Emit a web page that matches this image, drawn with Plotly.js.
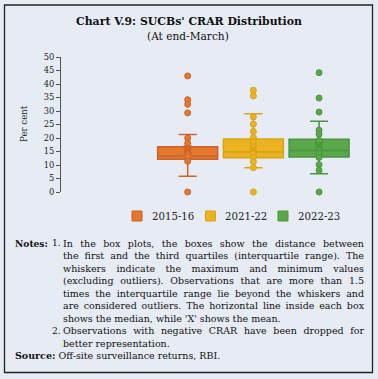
<!DOCTYPE html>
<html><head><meta charset="utf-8">
<script src="https://cdn.plot.ly/plotly-3.0.1.min.js"></script>
<style>html,body{margin:0;padding:0;background:#e7ecf4;}#chart{width:378px;height:379px;}</style>
</head><body><div id="chart"></div>
<script>
// ---- data ----
const years = ['2015-16', '2021-22', '2022-23'];
const q1 = [12.1, 12.7, 13.0];
const medians = [13.3, 14.8, 15.4];
const q3 = [16.8, 19.6, 19.5];
const lowerWhisker = [5.8, 9.0, 6.8];
const upperWhisker = [21.3, 29.0, 26.2];
const means = [15.7, 15.9, 17.0];
const points2015 = [43.0, 34.2, 32.5, 29.3, 20.0, 18.1, 15.9, 14.6, 13.0, 11.4, 0];
const points2021 = [37.7, 35.6, 27.8, 25.1, 22.4, 20.2, 18.6, 16.7, 15.5, 14.1, 12.8, 11.2, 9.0, 0];
const points2022 = [44.2, 34.8, 29.6, 22.9, 21.4, 19.1, 17.3, 15.7, 14.2, 12.8, 10.1, 8.0, 0];
const yTicks = [0, 5, 10, 15, 20, 25, 30, 35, 40, 45, 50];

const allPoints = [points2015, points2021, points2022];
const fills = ['#e5782f', '#ebb31f', '#5aa84a'];
const lines = ['#c9632a', '#d9a21a', '#4a9540'];

const W = 378, H = 379, L = 61, R = 18, T = 57, B = 187;
const PW = W - L - R, PH = H - T - B;
const px = v => (v - L) / PW;
const py = v => 1 - (v - T) / PH;
const serif = 'DejaVu Serif';

const traces = [];
years.forEach((yr, i) => {
  traces.push({
    type: 'box', name: yr, x: [i + 1],
    q1: [q1[i]], median: [medians[i]], q3: [q3[i]],
    lowerfence: [lowerWhisker[i]], upperfence: [upperWhisker[i]],
    width: 0.913, whiskerwidth: 0.3,
    fillcolor: fills[i], line: {color: lines[i], width: 1.5},
    boxpoints: false, hoverinfo: 'skip', showlegend: false
  });
});
years.forEach((yr, i) => {
  traces.push({
    type: 'scatter', mode: 'markers', showlegend: false, cliponaxis: false,
    x: allPoints[i].map(() => i + 1), y: allPoints[i],
    marker: {symbol: 'circle', size: 6, color: fills[i], line: {color: lines[i], width: 1}},
    hoverinfo: 'skip'
  });
  traces.push({
    type: 'scatter', mode: 'markers', showlegend: false, cliponaxis: false,
    x: [i + 1], y: [means[i]],
    marker: {symbol: 'x-thin', size: 8, line: {color: lines[i], width: 1.5}},
    hoverinfo: 'skip'
  });
});

const notes = [
  {t: 'In the box plots, the boxes show the distance between', j: true},
  {t: 'the first and the third quartiles (interquartile range). The', j: true},
  {t: 'whiskers indicate the maximum and minimum values', j: true},
  {t: '(excluding outliers). Observations that are more than 1.5', j: true},
  {t: 'times the interquartile range lie beyond the whiskers and', j: true},
  {t: 'are considered outliers. The horizontal line inside each box', j: true},
  {t: 'shows the median, while \'X\' shows the mean.', j: false},
  {t: 'Observations with negative CRAR have been dropped for', j: true},
  {t: 'better representation.', j: false}
];
const lineY = [243, 255.5, 268, 280.5, 293, 305.5, 318, 330.5, 343];
const nfont = {family: serif, size: 9.5, color: '#111'};
const lfont = {family: serif, size: 9.1, color: '#111'};
const textLeft = 61;

const annotations = [
  {text: '<b>Chart V.9: SUCBs\' CRAR Distribution</b>', x: px(189), y: py(21), xref: 'paper', yref: 'paper',
   showarrow: false, xanchor: 'center', yanchor: 'middle', font: {family: serif, size: 10.9, color: '#111'}},
  {text: '(At end-March)', x: px(188), y: py(36), xref: 'paper', yref: 'paper',
   showarrow: false, xanchor: 'center', yanchor: 'middle', font: {family: serif, size: 10.6, color: '#111'}},
  {text: 'Per cent', x: px(24), y: py(124), xref: 'paper', yref: 'paper', textangle: -90,
   showarrow: false, xanchor: 'center', yanchor: 'middle', font: {family: serif, size: 8.6, color: '#222'}},
  {text: '<b>Notes:</b>', x: px(13), y: py(lineY[0]), xref: 'paper', yref: 'paper',
   showarrow: false, xanchor: 'left', yanchor: 'middle', font: lfont},
  {text: '1.', x: px(50), y: py(lineY[0]), xref: 'paper', yref: 'paper',
   showarrow: false, xanchor: 'left', yanchor: 'middle', font: lfont},
  {text: '2.', x: px(50), y: py(lineY[7]), xref: 'paper', yref: 'paper',
   showarrow: false, xanchor: 'left', yanchor: 'middle', font: lfont},
  {text: '<b>Source:</b> Off-site surveillance returns, RBI.', x: px(13), y: py(355.5), xref: 'paper', yref: 'paper',
   showarrow: false, xanchor: 'left', yanchor: 'middle', font: nfont}
];
const justifyIdx = [];
notes.forEach((n, k) => {
  if (n.j) justifyIdx.push(annotations.length);
  annotations.push({text: n.t, x: px(textLeft), y: py(lineY[k]), xref: 'paper', yref: 'paper',
    showarrow: false, xanchor: 'left', yanchor: 'middle', align: 'left', font: nfont});
});

// manual legend (swatch + label)
const legendSwatchX = [132, 205.5, 278];
const shapes = [{type: 'rect', xref: 'paper', yref: 'paper', x0: px(4.5), x1: px(372.5), y0: py(5), y1: py(372.5),
  line: {color: '#222', width: 1.3}, fillcolor: 'rgba(0,0,0,0)'}];
years.forEach((yr, i) => {
  const sx = legendSwatchX[i];
  shapes.push({type: 'rect', xref: 'paper', yref: 'paper', x0: px(sx), x1: px(sx + 10), y0: py(211), y1: py(221),
    line: {color: lines[i], width: 1}, fillcolor: fills[i]});
  annotations.push({text: yr, x: px(sx + 17.5), y: py(216), xref: 'paper', yref: 'paper',
    showarrow: false, xanchor: 'left', yanchor: 'middle', font: {family: serif, size: 10.2, color: '#222'}});
});

const layout = {
  width: W, height: H, margin: {l: L, r: R, t: T, b: B},
  paper_bgcolor: '#e7ecf4', plot_bgcolor: '#e7ecf4',
  showlegend: false,
  xaxis: {range: [-0.928, 3.623], visible: false, fixedrange: true},
  yaxis: {range: [0, 50], tickvals: yTicks, ticktext: yTicks.map(String), showgrid: false, zeroline: false,
    showline: true, linecolor: '#555', linewidth: 1, ticks: 'outside', ticklen: 4, tickcolor: '#555', tickwidth: 1,
    tickfont: {family: serif, size: 8.3, color: '#222'}, fixedrange: true},
  annotations: annotations, shapes: shapes
};

Plotly.newPlot('chart', traces, layout, {staticPlot: true, displayModeBar: false}).then(() => {
  try {
    const targetRight = 362;
    justifyIdx.forEach(idx => {
      const g = document.querySelector('.annotation[data-index="' + idx + '"]');
      if (!g) return;
      const t = g.querySelector('text.annotation-text');
      if (!t) return;
      const len = t.getComputedTextLength();
      const spaces = (t.textContent.match(/ /g) || []).length;
      const target = targetRight - textLeft;
      if (spaces > 0) t.style.wordSpacing = ((target - len) / spaces) + 'px';
    });
  } catch (e) {}
});
</script></body></html>
